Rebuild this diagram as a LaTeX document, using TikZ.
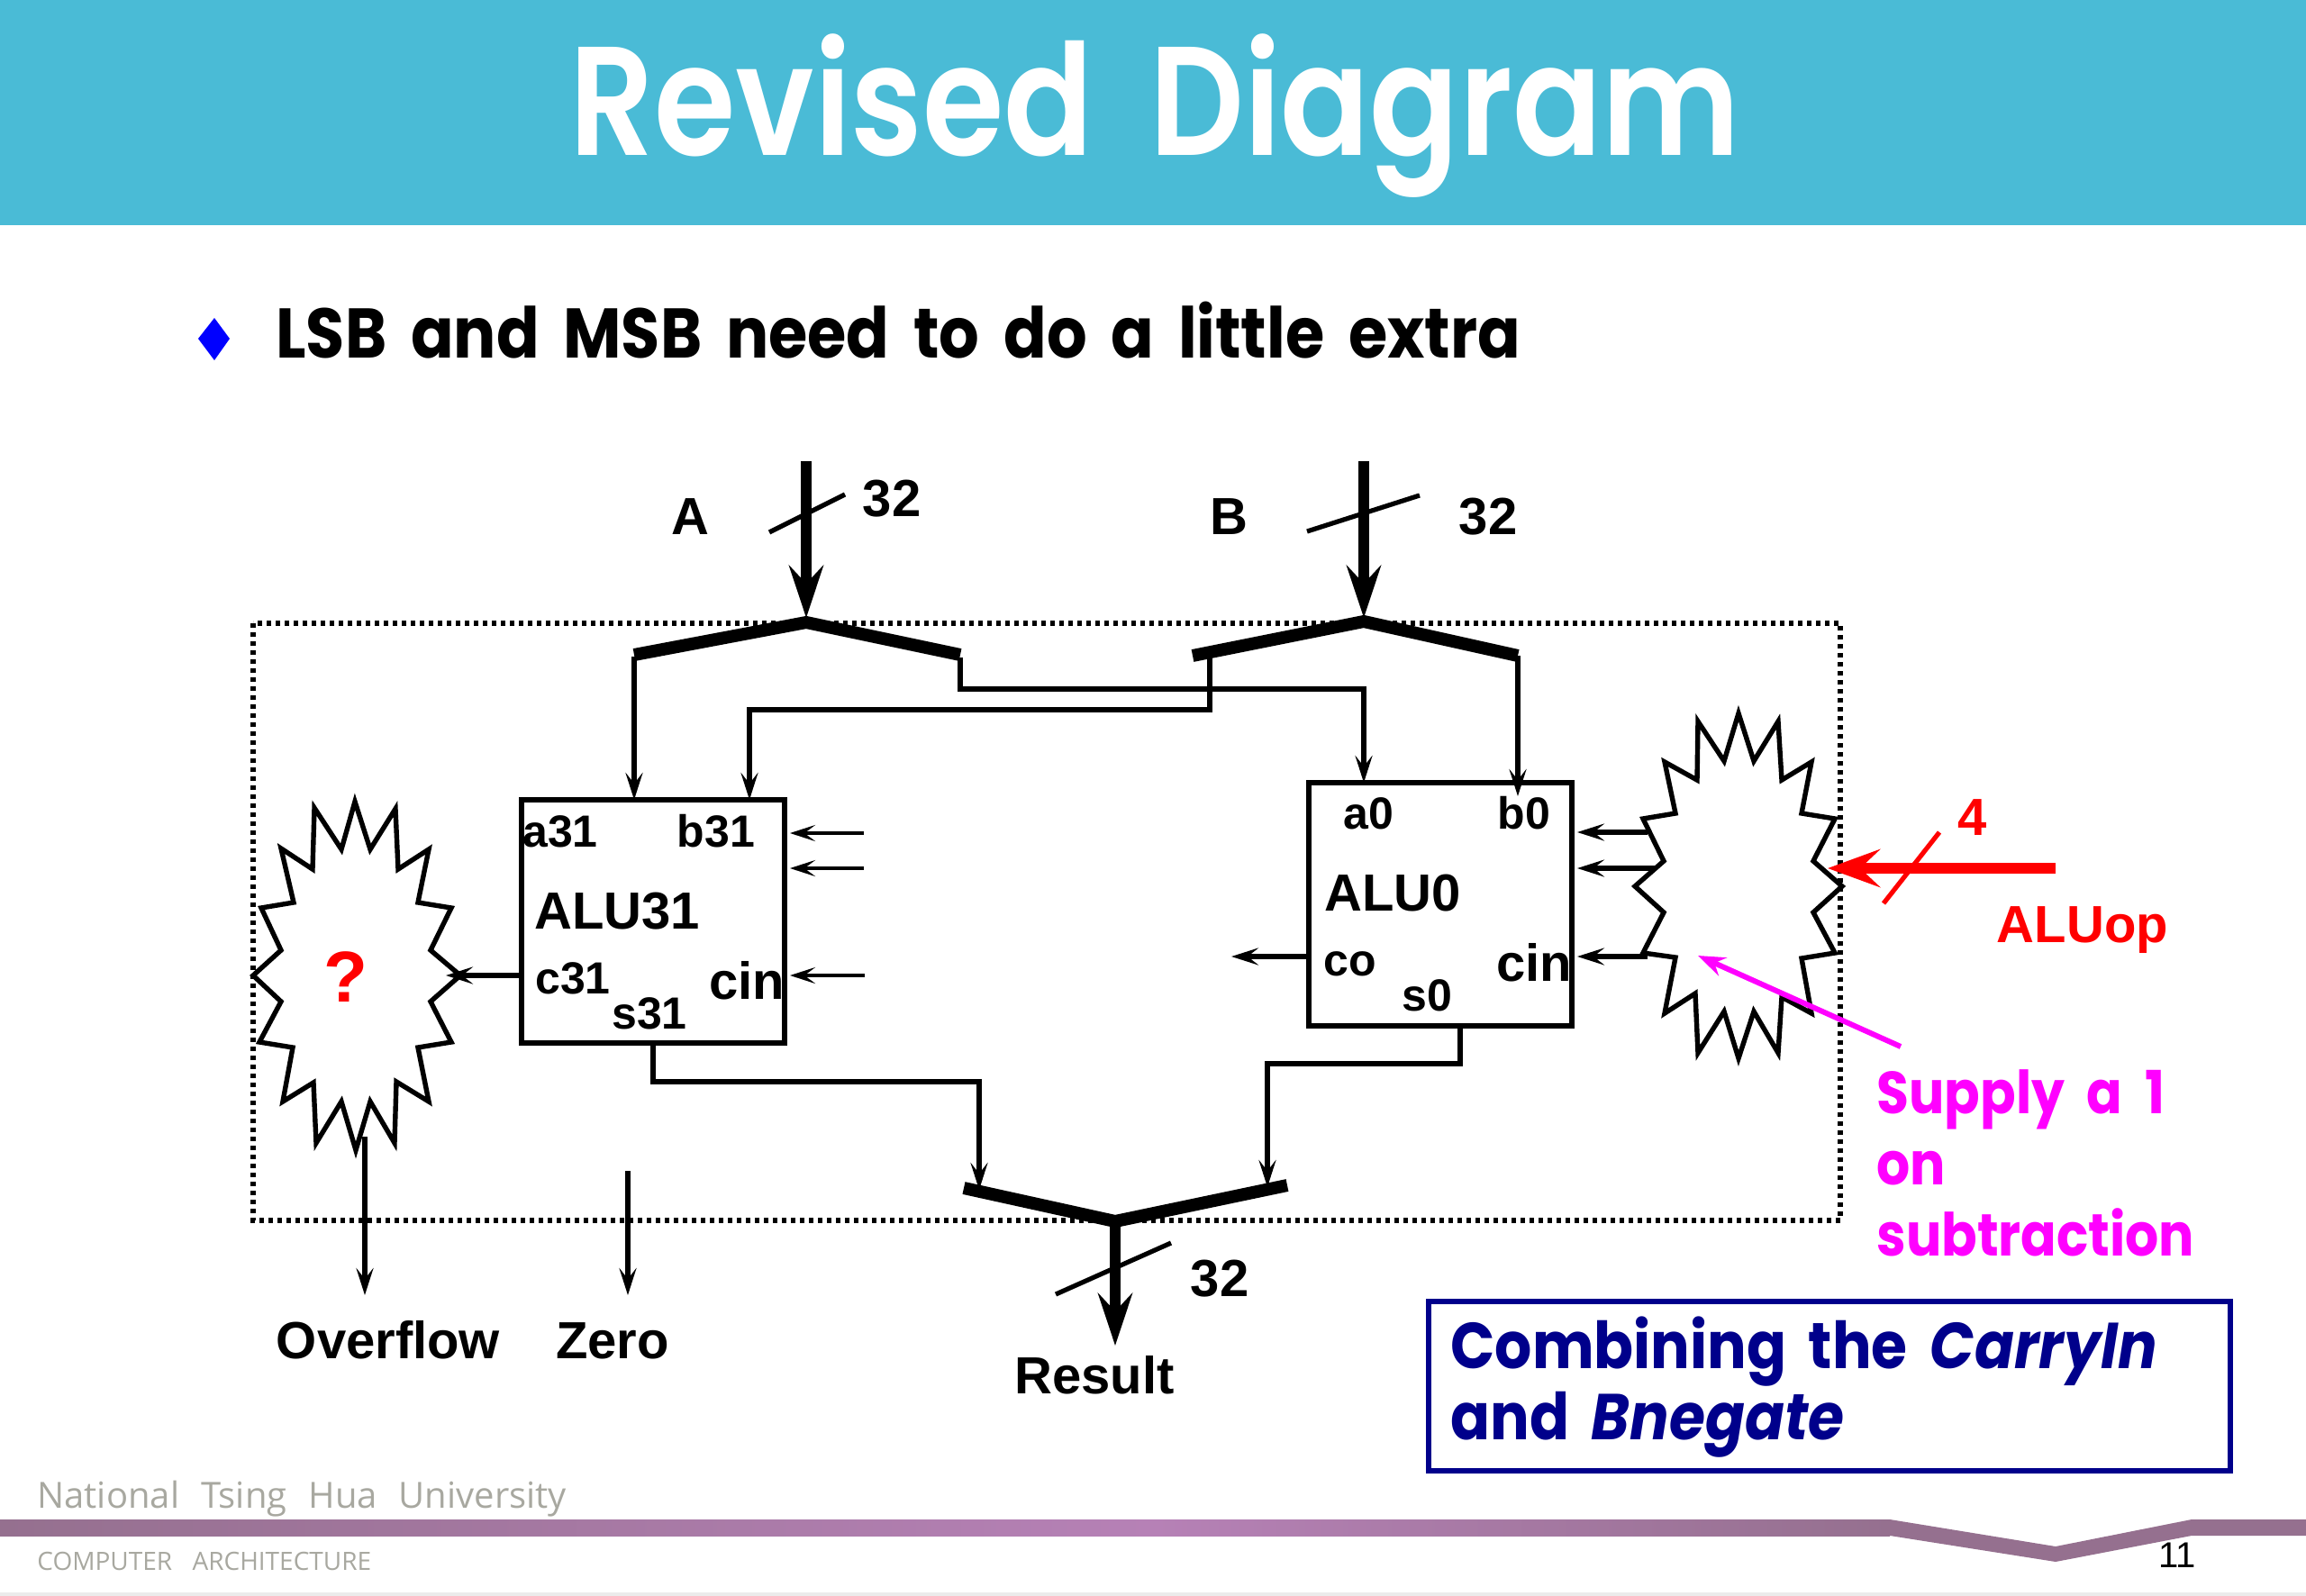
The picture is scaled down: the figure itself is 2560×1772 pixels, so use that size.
\documentclass[tikz,border=0pt]{standalone}
\usepackage{fontspec}
\usetikzlibrary{arrows.meta,calc}
\setmainfont{Liberation Sans}
\newfontfamily\futfont[FakeStretch=0.885,WordSpace=2.0]{Poppins}
\newfontfamily\boxfont[FakeStretch=0.90,WordSpace=2.0]{Poppins}
\newfontfamily\bulfont[FakeStretch=0.90,WordSpace=1.8]{Poppins}
\newfontfamily\titlefont[FakeStretch=0.85,WordSpace=1.8]{Poppins SemiBold}
\newfontfamily\footfont[FakeStretch=1.0]{Open Sans}
\definecolor{hdr}{HTML}{4ABBD6}
\definecolor{navyb}{HTML}{00008B}
\definecolor{mag}{HTML}{FF00FF}
\definecolor{bandA}{HTML}{95708F}
\definecolor{bandB}{HTML}{B681B6}
\definecolor{footgray}{HTML}{A8A8A0}
\tikzset{
  x=0.5pt,y=-0.5pt,
  lbl/.style={anchor=base,inner sep=0pt,font=\fontsize{29}{34}\selectfont\bfseries},
  pin/.style={anchor=base,inner sep=0pt,font=\fontsize{25}{30}\selectfont\bfseries},
  bus/.style={line width=5.6pt,-{Stealth[length=29pt,width=19pt,inset=10pt]}},
  wire/.style={line width=2.9pt,-{Stealth[length=15pt,width=9.5pt,inset=6pt]},line join=miter},
  sig/.style={line width=2pt,-{Stealth[length=14pt,width=9pt,inset=6pt]}},
  fork/.style={line width=7pt,line join=miter},
  tick/.style={line width=2.6pt},
  alu/.style={draw,line width=3pt,inner sep=0pt,outer sep=0pt,minimum width=146pt,minimum height=135pt,anchor=north west},
  star/.style={draw,line width=2.7pt,line join=miter,miter limit=6},
  subtext/.style={anchor=base west,inner sep=0pt,text=mag,font=\futfont\fontsize{33}{38}\selectfont\bfseries},
  boxtext/.style={anchor=base west,inner sep=0pt,text=navyb,font=\boxfont\fontsize{36}{42}\selectfont\bfseries},
}
\begin{document}
\begin{tikzpicture}
\useasboundingbox (0,0) rectangle (2560,1772);
% header
\fill[hdr] (0,0) rectangle (2560,250);
\node[anchor=base,inner sep=0pt,text=white,font=\titlefont\fontsize{86}{100}\selectfont] (title) at (1282,172) {Revised Diagram};
% bullet
\fill[blue] (238,353) -- (255,376) -- (238,400) -- (220,376) -- cycle;
\node[anchor=base west,inner sep=0pt,font=\bulfont\fontsize{39}{46}\selectfont\bfseries] (bullet) at (306,397) {LSB and MSB need to do a little extra};
% dotted frame
\draw[line width=3.2pt,dash pattern=on 2.5pt off 2.5pt] (281,692) rectangle (2043,1355);
% boxes
\node[alu] (aluL) at (579,888) {};
\node[alu] (aluR) at (1453,869) {};
% coordinates
\coordinate (Atop) at (895,512); \coordinate (Aapex) at (895,691); \coordinate (Al) at (704,727); \coordinate (Ar) at (1066,727);
\coordinate (Btop) at (1514,512); \coordinate (Bapex) at (1514,690); \coordinate (Bl) at (1324,728); \coordinate (Br) at (1685,728);
\coordinate (Rl) at (1070,1319); \coordinate (Rapex) at (1238,1356); \coordinate (Rr) at (1429,1316); \coordinate (Rtip) at (1238,1494);
% buses
\draw[bus] (Atop) -- (895,686);
\draw[bus] (Btop) -- (1514,686);
\draw[fork] (Al) -- (Aapex) -- (Ar);
\draw[fork] (Bl) -- (Bapex) -- (Br);
\draw[fork] (Rl) -- (Rapex) -- (Rr);
\draw[bus] (Rapex) -- (Rtip);
\draw[tick] (854,591) -- (938,549);
\draw[tick] (1451,590) -- (1576,550);
\draw[tick] (1172,1437) -- (1300,1380);
% wires
\draw[wire] (Al) ++(0,2) -- (704,888);
\draw[wire] (1343,722) -- (1343,788) -- (832,788) -- (832,888);
\draw[wire] (1066,730) -- (1066,765) -- (1514,765) -- (1514,869);
\draw[wire] (Br) -- (1685,884);
\draw[wire] (725,1158) -- (725,1201) -- (1087,1201) -- (1087,1321);
\draw[wire] (1621,1139) -- (1621,1181) -- (1407,1181) -- (1407,1318);
% stars
\draw[star,fill=white] (394,890) -- (411,943) -- (439,898) -- (442,965) -- (476,943) -- (464,1002) -- (501,1008) -- (478,1055) -- (511,1083) -- (478,1112) -- (501,1157) -- (464,1163) -- (476,1223) -- (440,1201) -- (438,1269) -- (411,1223) -- (395,1277) -- (379,1223) -- (351,1269) -- (348,1202) -- (314,1223) -- (325,1163) -- (288,1157) -- (312,1112) -- (281,1083) -- (312,1055) -- (290,1008) -- (326,1002) -- (312,942) -- (347,965) -- (349,897) -- (379,943) -- cycle;
\draw[star,fill=white] (1930,792) -- (1947,845) -- (1974,801) -- (1978,866) -- (2011,846) -- (2000,903) -- (2037,909) -- (2013,956) -- (2045,984) -- (2013,1013) -- (2037,1058) -- (2000,1064) -- (2011,1125) -- (1978,1107) -- (1974,1169) -- (1947,1123) -- (1930,1175) -- (1914,1123) -- (1885,1169) -- (1882,1103) -- (1848,1125) -- (1860,1063) -- (1824,1058) -- (1847,1013) -- (1815,984) -- (1847,956) -- (1824,909) -- (1860,903) -- (1848,846) -- (1884,866) -- (1885,801) -- (1914,845) -- cycle;
% small signals
\draw[sig] (959,925) -- (877,925);
\draw[sig] (959,964) -- (877,964);
\draw[sig] (960,1083) -- (877,1083);
\draw[wire] (aluL.west |- 0,1083) -- (495,1083);
\draw[wire] (1829,924) -- (1751,924);
\draw[wire] (1839,964) -- (1751,964);
\draw[wire] (1829,1062) -- (1751,1062);
\draw[wire] (aluR.west |- 0,1062) -- (1367,1062);
\draw[wire] (405,1262) -- (405,1438);
\draw[wire] (697,1300) -- (697,1438);
% red input
\draw[line width=6pt,red,-{Stealth[length=29pt,width=21pt,inset=11pt]}] (2282,964) -- (2029,964);
\draw[red,line width=2.6pt] (2153,924) -- (2091,1003);
% magenta pointer
\draw[mag,line width=3pt,-{Stealth[length=15pt,width=11pt,inset=5pt]}] (2110,1162) -- (1885,1061);
% labels
\node[lbl] (lA) at (766,593) {A};
\node[lbl] (nA) at (990,573) {32};
\node[lbl] (lB) at (1364,593) {B};
\node[lbl] (nB) at (1652,593) {32};
\node[lbl] (nR) at (1354,1439) {32};
\node[lbl,text=red] (n4) at (2190,927) {4};
\node[lbl,text=red] (lop) at (2312,1046) {ALUop};
\node[pin] (a31) at (622,940) {a31};
\node[pin] (b31) at (795,940) {b31};
\node[lbl] (t31) at (685,1031) {ALU31};
\node[pin] (c31) at (636,1103) {c31};
\node[pin] (s31) at (721,1142) {s31};
\node[lbl] (cinL) at (829,1109) {cin};
\node[anchor=base,inner sep=0pt,text=red,font=\fontsize{40}{46}\selectfont\bfseries] (q) at (384,1112) {?};
\node[pin] (a0) at (1519,920) {a0};
\node[pin] (b0) at (1692,920) {b0};
\node[lbl] (t0) at (1546,1011) {ALU0};
\node[pin] (co) at (1499,1083) {co};
\node[pin] (s0) at (1584,1122) {s0};
\node[lbl] (cinR) at (1703,1089) {cin};
\node[lbl] (ovf) at (431,1508) {Overflow};
\node[lbl] (zer) at (680,1508) {Zero};
\node[lbl] (res) at (1215,1547) {Result};
\node[subtext] (s1) at (2083,1236) {Supply a 1};
\node[subtext] (s2) at (2083,1315) {on};
\node[subtext] (s3) at (2083,1394) {subtraction};
% note box
\draw[navyb,line width=3.2pt,fill=white] (1586,1445) rectangle (2476,1633);
\node[boxtext] (b1) at (1610,1519) {Combining the \itshape CarryIn};
\node[boxtext] (b2) at (1610,1598) {and \itshape Bnegate};
% footer
\node[anchor=base west,inner sep=0pt,text=footgray,font=\footfont\fontsize{20}{24}\selectfont] (f1) at (41,1674) {National\hspace{0.6em}Tsing\hspace{0.6em}Hua\hspace{0.6em}University};
\node[anchor=base west,inner sep=0pt,text=footgray,font=\footfont\fontsize{14}{18}\selectfont] (f2) at (41,1743) {COMPUTER\hspace{0.8em}ARCHITECTURE};
\fill[left color=bandA,right color=bandB] (0,1687) rectangle (1280,1705);
\fill[left color=bandB,right color=bandA] (1280,1687) rectangle (2098,1705);
\fill[bandA] (2098,1687) -- (2282,1717) -- (2433,1687) -- (2560,1687) -- (2560,1705) -- (2433,1705) -- (2282,1734) -- (2098,1705) -- cycle;
\node[anchor=base,inner sep=0pt,font=\fontsize{20}{24}\selectfont] (pg) at (2417,1740) {11};
\fill[black!8] (0,1768) rectangle (2560,1772);
\end{tikzpicture}
\end{document}
